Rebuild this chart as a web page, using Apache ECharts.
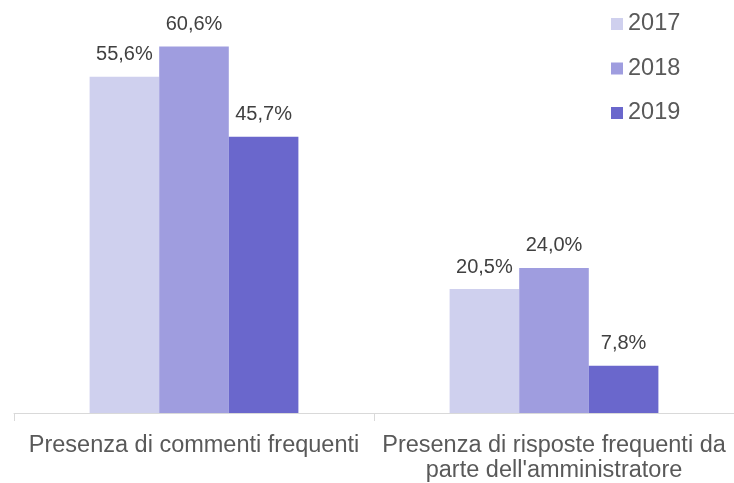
<!DOCTYPE html>
<html>
<head>
<meta charset="utf-8">
<script src="https://cdn.jsdelivr.net/npm/echarts@6/dist/echarts.min.js"></script>
<style>html,body{margin:0;padding:0;background:#fff}#c{width:734px;height:483px}</style>
</head>
<body>
<div id="c"></div>
<script>
const categories = ["Presenza di commenti frequenti", "Presenza di risposte frequenti da\nparte dell'amministratore"];
const years = ["2017", "2018", "2019"];
const v2017 = [55.6, 20.5];
const v2018 = [60.6, 24.0];
const v2019 = [45.7, 7.8];
const colors = ["#cfd0ee", "#9f9ddf", "#6a67cc"];
const font = "'Liberation Sans', Arial, sans-serif";

const chart = echarts.init(document.getElementById('c'), null, {renderer: 'canvas'});
const mk = (name, data, color) => ({
  name, type: 'bar', data, barGap: '0%', barCategoryGap: '42%',
  itemStyle: {color},
  label: {show: true, position: 'top', distance: 12, color: '#404040', fontSize: 20, fontFamily: font,
    formatter: p => p.value.toFixed(1).replace('.', ',') + '%'}
});
chart.setOption({
  animation: false,
  grid: {left: 14, right: 0, top: 20, bottom: 70, containLabel: false},
  legend: {orient: 'vertical', left: 606, top: 7, itemWidth: 12, itemHeight: 12, itemGap: 20.5,
    icon: 'rect', data: years,
    textStyle: {color: '#595959', fontSize: 23.5, fontFamily: font, lineHeight: 24}},
  xAxis: {type: 'category', data: categories,
    axisLine: {lineStyle: {color: '#d9d9d9', width: 1}},
    axisTick: {show: true, length: 8, lineStyle: {color: '#d9d9d9'}},
    axisLabel: {color: '#595959', fontSize: 23.5, fontFamily: font, lineHeight: 25, margin: 20, interval: 0}},
  yAxis: {type: 'value', min: 0, max: 65, show: false, splitLine: {show: false}},
  series: [mk(years[0], v2017, colors[0]), mk(years[1], v2018, colors[1]), mk(years[2], v2019, colors[2])]
});
</script>
</body>
</html>
